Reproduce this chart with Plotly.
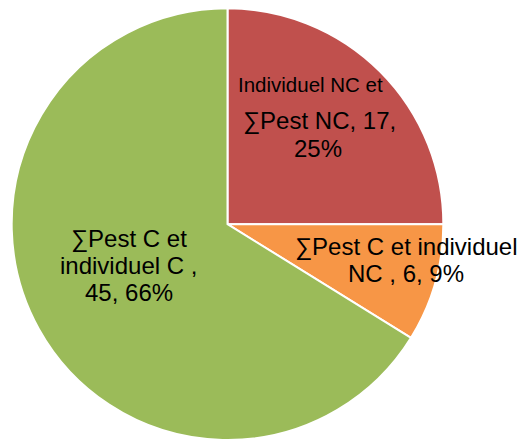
import plotly.graph_objects as go

# Categories and counts
categories = [
    "Individuel NC et ∑Pest NC",
    "∑Pest C et individuel NC ",
    "∑Pest C et individuel C ",
]
values = [17, 6, 45]
colors = ["#C0504D", "#F79646", "#9BBB59"]

W, H = 527, 440

total = sum(values)
pcts = [round(100 * v / total) for v in values]

fig = go.Figure(
    go.Pie(
        labels=categories,
        values=values,
        sort=False,
        direction="clockwise",
        rotation=0,
        marker=dict(colors=colors, line=dict(color="white", width=2)),
        textinfo="none",
        hoverinfo="label+value+percent",
        domain=dict(x=[11 / W, 444 / W], y=[0.0, 0.981]),
        showlegend=False,
    )
)

FONT = "Liberation Sans, Arial, sans-serif"
BIG, SMALL = 24, 20.5

# Slice labels, one line at a time: (text, x centre px, y centre px, size)
label_lines = [
    ("Individuel NC et", 310, 85, SMALL),
    (f"∑Pest NC, {values[0]},", 319, 121, BIG),
    (f"{pcts[0]}%", 318, 148, BIG),
    ("∑Pest C et individuel", 406, 247, BIG),
    (f"NC , {values[1]}, {pcts[1]}%", 406, 273, BIG),
    ("∑Pest C et", 129, 239, BIG),
    ("individuel C ,", 128, 265, BIG),
    (f"{values[2]}, {pcts[2]}%", 129, 292, BIG),
]

annotations = []
for text, xc, yc, size in label_lines:
    annotations.append(
        dict(
            x=xc / W,
            y=1 - yc / H,
            xref="paper",
            yref="paper",
            text=text,
            showarrow=False,
            xanchor="center",
            yanchor="middle",
            font=dict(family=FONT, size=size, color="black"),
        )
    )

fig.update_layout(
    width=W,
    height=H,
    margin=dict(l=0, r=0, t=0, b=0),
    paper_bgcolor="white",
    plot_bgcolor="white",
    annotations=annotations,
)

fig.write_html("out.html")
